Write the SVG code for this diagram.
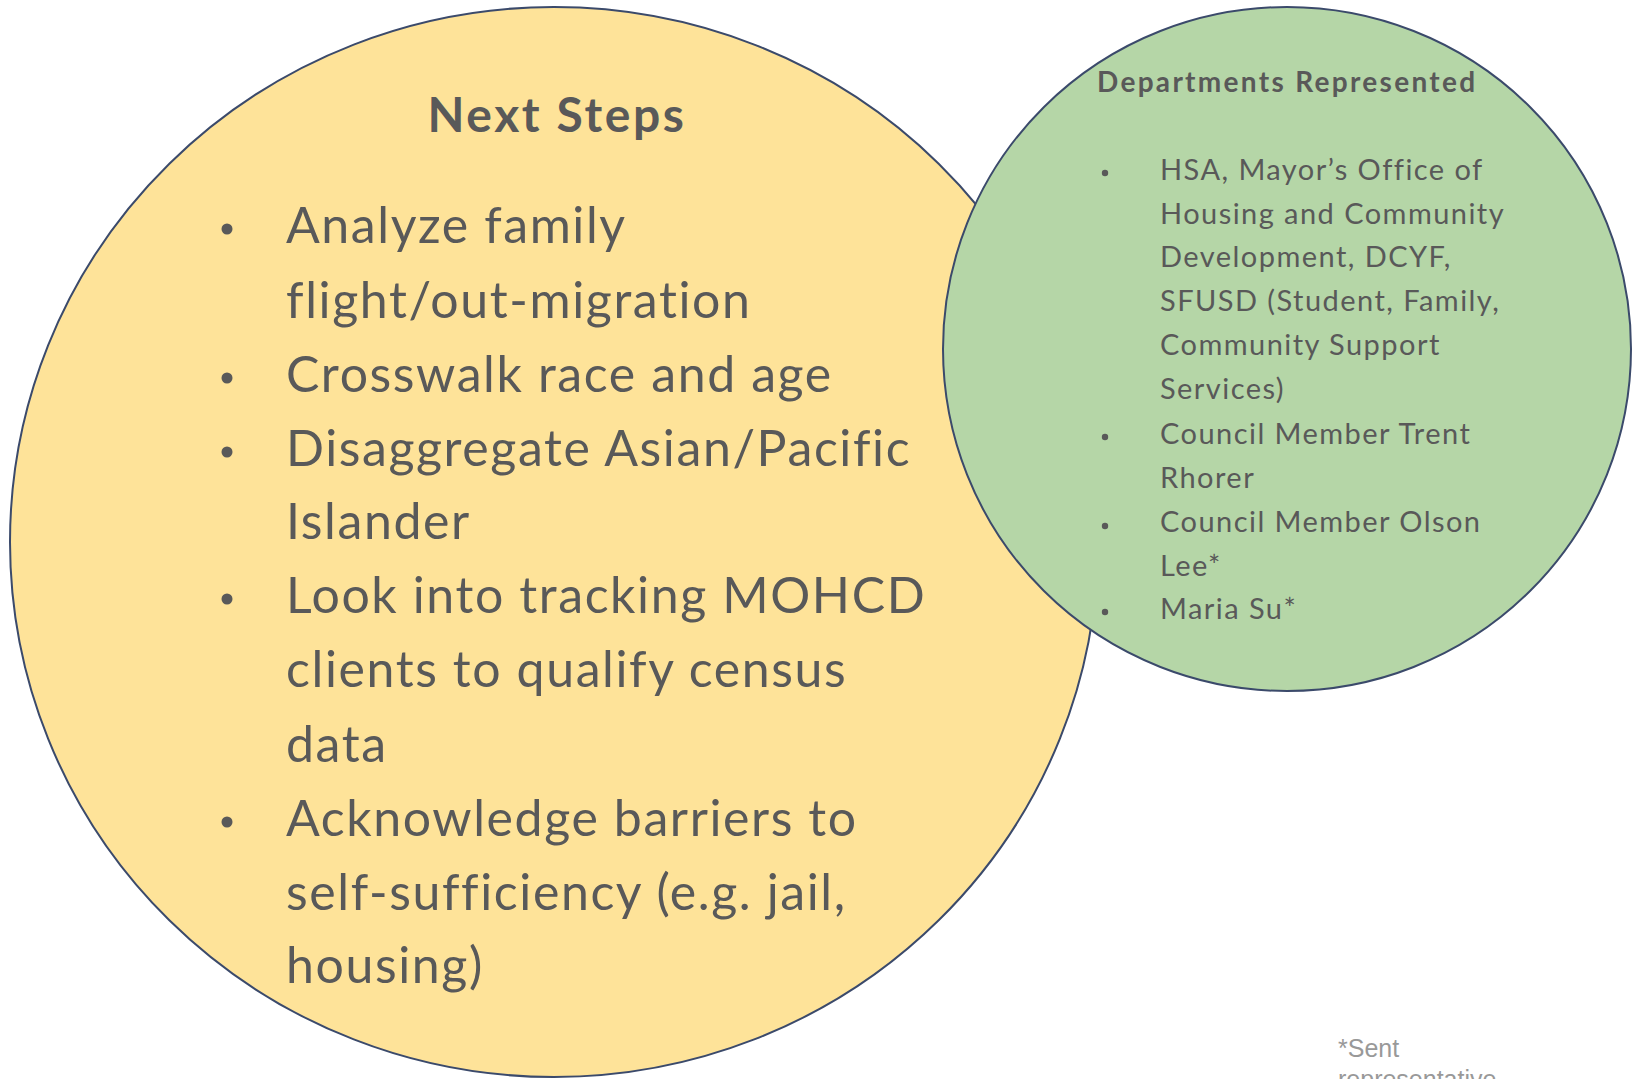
<svg xmlns="http://www.w3.org/2000/svg" width="1638" height="1079" viewBox="0 0 1638 1079">
<style>
.circ{stroke:#3B4A6B;stroke-width:2}
.big{font-family:Lato,"Noto Sans",sans-serif;font-size:50px;letter-spacing:1.6px;fill:#595959}
.title{font-family:Lato,"Noto Sans",sans-serif;font-size:48px;font-weight:bold;letter-spacing:2.6px;fill:#595959}
.small{font-family:Lato,"Noto Sans",sans-serif;font-size:29px;letter-spacing:1.45px;fill:#595959}
.stitle{font-family:Lato,"Noto Sans",sans-serif;font-size:28px;font-weight:bold;letter-spacing:2.3px;fill:#595959}
.note{font-family:"Liberation Sans",Arial,sans-serif;font-size:25px;fill:#999999}
.dot{fill:#595959}
</style>
<rect width="1638" height="1079" fill="#ffffff"/>
<g id="next-steps">
<ellipse class="circ" cx="554" cy="542" rx="544" ry="535" fill="#FEE399"/>
<text class="title" x="557" y="132" text-anchor="middle">Next Steps</text>
<circle class="dot" cx="227" cy="229" r="5.5"/>
<circle class="dot" cx="227" cy="378" r="5.5"/>
<circle class="dot" cx="227" cy="452" r="5.5"/>
<circle class="dot" cx="227" cy="599" r="5.5"/>
<circle class="dot" cx="227" cy="822" r="5.5"/>
<text class="big" x="286" y="243">Analyze family</text>
<text class="big" x="286" y="318">flight/out-migration</text>
<text class="big" x="286" y="392">Crosswalk race and age</text>
<text class="big" x="286" y="466">Disaggregate Asian/Pacific</text>
<text class="big" x="286" y="539">Islander</text>
<text class="big" x="286" y="613">Look into tracking MOHCD</text>
<text class="big" x="286" y="687">clients to qualify census</text>
<text class="big" x="286" y="762">data</text>
<text class="big" x="286" y="836">Acknowledge barriers to</text>
<text class="big" x="286" y="910">self-sufficiency (e.g. jail,</text>
<text class="big" x="286" y="983">housing)</text>
</g>
<g id="departments">
<ellipse class="circ" cx="1287" cy="349" rx="344" ry="342" fill="#B5D6A7"/>
<text class="stitle" x="1097" y="92">Departments Represented</text>
<circle class="dot" cx="1105" cy="173" r="3.2"/>
<circle class="dot" cx="1105" cy="437" r="3.2"/>
<circle class="dot" cx="1105" cy="526" r="3.2"/>
<circle class="dot" cx="1105" cy="612" r="3.2"/>
<text class="small" x="1160" y="180">HSA, Mayor’s Office of</text>
<text class="small" x="1160" y="224">Housing and Community</text>
<text class="small" x="1160" y="267">Development, DCYF,</text>
<text class="small" x="1160" y="311">SFUSD (Student, Family,</text>
<text class="small" x="1160" y="355">Community Support</text>
<text class="small" x="1160" y="399">Services)</text>
<text class="small" x="1160" y="444">Council Member Trent</text>
<text class="small" x="1160" y="488">Rhorer</text>
<text class="small" x="1160" y="532">Council Member Olson</text>
<text class="small" x="1160" y="576">Lee*</text>
<text class="small" x="1160" y="619">Maria Su*</text>
</g>
<g id="footnote">
<text class="note" x="1338" y="1057">*Sent</text>
<text class="note" x="1338" y="1088">representative</text>
</g>
<g id="connectors"/>
</svg>
